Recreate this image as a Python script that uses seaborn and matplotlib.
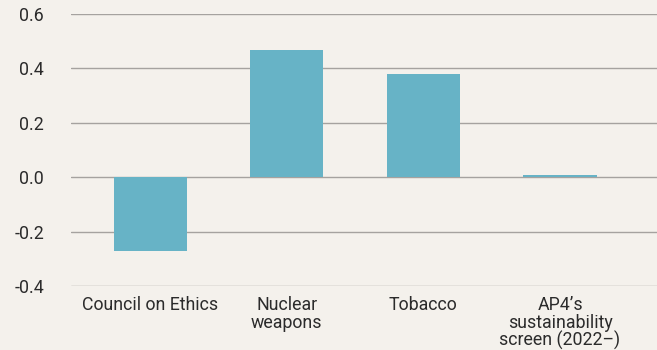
import matplotlib
matplotlib.use("Agg")
import matplotlib.pyplot as plt
import seaborn as sns
import pandas as pd

categories = ["Council on Ethics", "Nuclear\nweapons", "Tobacco", "AP4\u2019s\nsustainability\nscreen (2022\u2013)"]
values = [-0.272, 0.468, 0.379, 0.008]
yticks = [-0.4, -0.2, 0.0, 0.2, 0.4, 0.6]

bg = "#f4f1ec"
bar_color = "#67b3c6"

sns.set_theme(style="white")
plt.rcParams["font.family"] = ["Roboto", "DejaVu Sans"]

fig = plt.figure(figsize=(6.57, 3.5), dpi=100, facecolor=bg)
ax = fig.add_axes([71/657, (350-286)/350, 1 - 71/657, (286-14)/350])
ax.set_facecolor(bg)

df = pd.DataFrame({"cat": categories, "val": values})
sns.barplot(data=df, x="cat", y="val", color=bar_color, saturation=1, width=0.535,
            linewidth=0, edgecolor="none", ax=ax, zorder=3)

ax.set_ylim(-0.4, 0.6)
ax.set_xlim(-0.58, 3.71)
ax.set_yticks(yticks)
ax.set_yticklabels([f"{t:.1f}" for t in yticks])
ax.yaxis.grid(True, color="#a5a29f", linewidth=1.0, zorder=0)
ax.set_axisbelow(True)
for s in ax.spines.values():
    s.set_visible(False)
ax.set_xlabel("")
ax.set_ylabel("")
ax.tick_params(axis="y", length=0, pad=19.5, labelsize=12.8, labelcolor="#2b2b2b")
ax.tick_params(axis="x", length=0, pad=7.5, labelsize=12.8, labelcolor="#2b2b2b")
for lbl in ax.get_xticklabels():
    lbl.set_linespacing(0.95)

fig.savefig("out.png", dpi=100, facecolor=bg)
